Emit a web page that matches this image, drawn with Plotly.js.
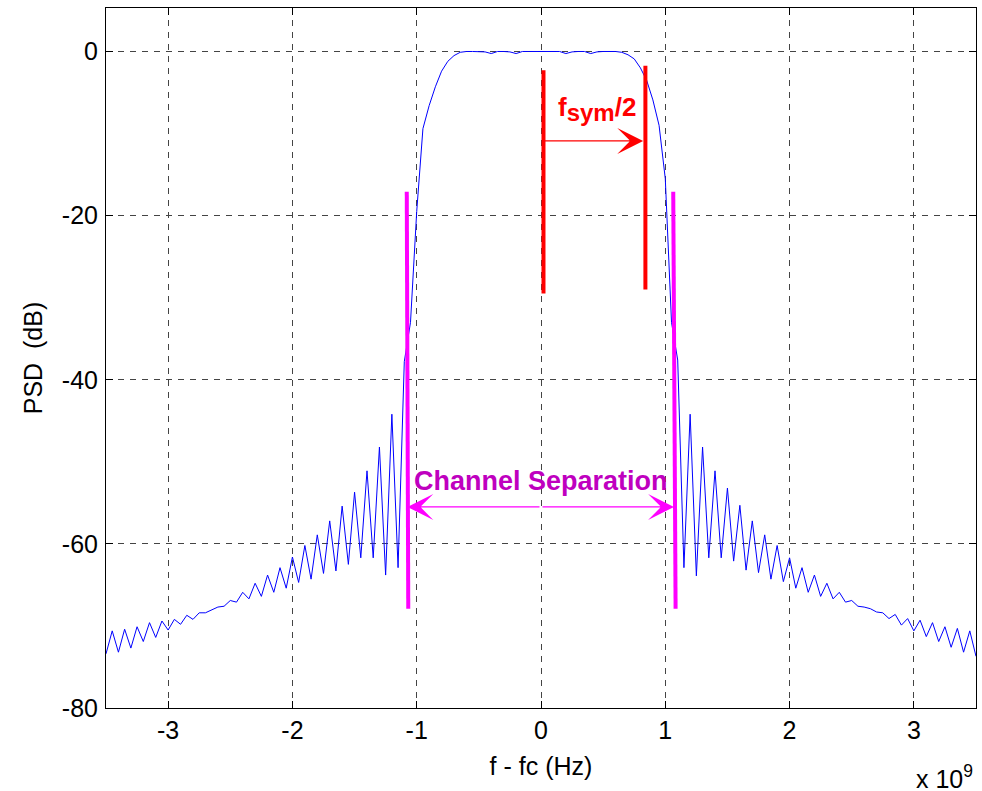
<!DOCTYPE html>
<html>
<head>
<meta charset="utf-8">
<script src="https://cdn.plot.ly/plotly-3.0.1.min.js"></script>
<style>
  html, body { margin: 0; padding: 0; background: #ffffff; }
  #chart { width: 982px; height: 791px; }
</style>
</head>
<body>
<div id="chart"></div>
<script>
// Frequency offset f - fc, in units of 1e9 Hz
const freqGHz = [
  -3.5,-3.45,-3.4,-3.35,-3.3,-3.25,-3.2,-3.15,-3.1,-3.05,
  -3,-2.95,-2.9,-2.85,-2.8,-2.75,-2.7,-2.65,-2.6,-2.55,
  -2.5,-2.45,-2.4,-2.35,-2.3,-2.25,-2.2,-2.15,-2.1,-2.05,
  -2,-1.95,-1.9,-1.85,-1.8,-1.75,-1.7,-1.65,-1.6,-1.55,
  -1.5,-1.45,-1.4,-1.35,-1.3,-1.25,-1.2,-1.15,-1.1,-1.05,
  -1,-0.95,-0.9,-0.85,-0.8,-0.75,-0.7,-0.65,-0.6,-0.55,
  -0.5,-0.45,-0.4,-0.35,-0.3,-0.25,-0.2,-0.15,-0.1,-0.05,
  0,0.05,0.1,0.15,0.2,0.25,0.3,0.35,0.4,0.45,
  0.5,0.55,0.6,0.65,0.7,0.75,0.8,0.85,0.9,0.95,
  1,1.05,1.1,1.15,1.2,1.25,1.3,1.35,1.4,1.45,
  1.5,1.55,1.6,1.65,1.7,1.75,1.8,1.85,1.9,1.95,
  2,2.05,2.1,2.15,2.2,2.25,2.3,2.35,2.4,2.45,
  2.5,2.55,2.6,2.65,2.7,2.75,2.8,2.85,2.9,2.95,
  3,3.05,3.1,3.15,3.2,3.25,3.3,3.35,3.4,3.45,
  3.5
];

// Power spectral density, dB
const psdDb = [
  -73.4,-70.6,-73.2,-70.4,-72.7,-70.1,-71.9,-69.6,-71.4,-69.4,
  -70.5,-69.2,-69.8,-68.7,-69.2,-68.4,-68.4,-68.0,-67.7,-67.6,
  -66.9,-67.1,-65.9,-66.7,-64.8,-66.4,-63.8,-65.9,-62.9,-65.4,
  -61.6,-64.7,-60.2,-64.3,-58.9,-63.6,-57.2,-63.3,-55.4,-62.5,
  -53.7,-61.7,-51.1,-61.7,-48.2,-63.8,-44.2,-62.9,-37.8,-33.0,
  -19.5,-9.4,-6.6,-4.3,-2.4,-1.2,-0.5,-0.1,0.0,0.0,
  0.0,-0.05,-0.25,0.0,0.0,-0.05,-0.25,0.0,0.0,0.0,
  0.0,0.0,0.0,0.0,-0.25,-0.05,0.0,0.0,-0.25,-0.05,
  0.0,0.0,0.0,-0.1,-0.4,-0.9,-2.0,-3.5,-5.9,-9.0,
  -15.5,-33.0,-37.6,-62.9,-44.2,-63.9,-48.2,-61.7,-51.1,-61.7,
  -53.2,-62.1,-55.3,-63.2,-57.2,-63.5,-58.9,-64.3,-60.2,-64.6,
  -61.7,-65.4,-62.9,-65.9,-63.8,-66.4,-64.8,-66.7,-65.9,-67.1,
  -66.9,-67.6,-67.7,-67.9,-68.3,-68.4,-69.1,-68.6,-69.9,-69.1,
  -70.6,-69.3,-71.3,-69.6,-71.9,-70.1,-72.6,-70.3,-73.2,-70.6,
  -73.7
];

const xTickVals = [-3, -2, -1, 0, 1, 2, 3];
const yTickVals = [0, -20, -40, -60, -80];

// f_sym/2 marker lines (red)
const symLeftX = [0.02, 0.02];
const symLeftY = [-2.3, -29.5];
const symRightX = [0.84, 0.84];
const symRightY = [-1.75, -29.0];
const symArrowFromX = 0.02, symArrowToX = 0.822, symArrowY = -10.9;

// Channel separation marker lines (magenta)
const chLeftX = [-1.08, -1.068];
const chLeftY = [-17.1, -67.9];
const chRightX = [1.064, 1.083];
const chRightY = [-17.1, -67.9];
const chArrowLeftX = -1.075, chArrowRightX = 1.07, chArrowY = -55.5;

const FONT = 'Liberation Sans, Arial, Helvetica, sans-serif';

const traces = [
  { x: freqGHz, y: psdDb, type: 'scatter', mode: 'lines',
    line: { color: '#0000ff', width: 1 }, hoverinfo: 'skip' },
  { x: symLeftX, y: symLeftY, type: 'scatter', mode: 'lines',
    line: { color: '#ff0000', width: 4 }, hoverinfo: 'skip' },
  { x: symRightX, y: symRightY, type: 'scatter', mode: 'lines',
    line: { color: '#ff0000', width: 4 }, hoverinfo: 'skip' },
  { x: chLeftX, y: chLeftY, type: 'scatter', mode: 'lines',
    line: { color: '#ff00ff', width: 4 }, hoverinfo: 'skip' },
  { x: chRightX, y: chRightY, type: 'scatter', mode: 'lines',
    line: { color: '#ff00ff', width: 4 }, hoverinfo: 'skip' }
];

const layout = {
  width: 982, height: 791,
  margin: { l: 106, r: 6, t: 8, b: 83 },
  paper_bgcolor: '#ffffff', plot_bgcolor: '#ffffff',
  showlegend: false,
  font: { family: FONT, size: 25, color: '#000000' },
  xaxis: {
    range: [-3.5, 3.5], tickvals: xTickVals, ticktext: xTickVals.map(String),
    ticks: 'inside', ticklen: 7, tickcolor: '#000', showline: true, linecolor: '#000', linewidth: 1,
    mirror: 'ticks', showgrid: true, gridcolor: '#444', griddash: '6px,6px', gridwidth: 1,
    zeroline: false, tickfont: { family: FONT, size: 25 },
    title: { text: 'f - fc (Hz)', font: { family: FONT, size: 25 }, standoff: 14 },
    automargin: false
  },
  yaxis: {
    range: [-80, 5.3], tickvals: yTickVals, ticktext: yTickVals.map(String),
    ticks: 'inside', ticklen: 7, tickcolor: '#000', showline: true, linecolor: '#000', linewidth: 1,
    mirror: 'ticks', showgrid: true, gridcolor: '#444', griddash: '6px,6px', gridwidth: 1,
    zeroline: false, tickfont: { family: FONT, size: 25 }, ticklabelstandoff: 2,
    title: { text: 'PSD&nbsp;&nbsp;(dB)', font: { family: FONT, size: 25 }, standoff: 12 },
    automargin: false
  },
  annotations: [
    { x: symArrowToX, y: symArrowY, ax: symArrowFromX, ay: symArrowY,
      xref: 'x', yref: 'y', axref: 'x', ayref: 'y', text: '',
      showarrow: true, arrowhead: 3, arrowsize: 3.6, arrowwidth: 1.2, arrowcolor: '#ff0000', standoff: 0, startstandoff: 0 },
    { x: chArrowLeftX, y: chArrowY, ax: 0, ay: chArrowY,
      xref: 'x', yref: 'y', axref: 'x', ayref: 'y', text: '',
      showarrow: true, arrowhead: 3, arrowsize: 3.6, arrowwidth: 1.2, arrowcolor: '#ff00ff', standoff: 0, startstandoff: 0 },
    { x: chArrowRightX, y: chArrowY, ax: 0, ay: chArrowY,
      xref: 'x', yref: 'y', axref: 'x', ayref: 'y', text: '',
      showarrow: true, arrowhead: 3, arrowsize: 3.6, arrowwidth: 1.2, arrowcolor: '#ff00ff', standoff: 0, startstandoff: 0 },
    { x: 0.117, y: -7.0, xref: 'x', yref: 'y', xanchor: 'left', yanchor: 'middle',
      text: "<b>f<sub><span style='font-size:24px'>sym</span></sub>/2</b>", showarrow: false,
      font: { family: FONT, size: 26, color: '#ff0000' } },
    { x: 0.0, y: -52.3, xref: 'x', yref: 'y', xanchor: 'center', yanchor: 'middle',
      text: '<b>Channel Separation</b>', showarrow: false,
      font: { family: FONT, size: 27, color: '#bf00bf' } },
    { x: 0.999, y: -0.099, xref: 'paper', yref: 'paper', xanchor: 'right', yanchor: 'middle',
      text: 'x 10<sup>9</sup>', showarrow: false,
      font: { family: FONT, size: 25, color: '#000' } }
  ]
};

Plotly.newPlot('chart', traces, layout, { staticPlot: true, displayModeBar: false });
</script>
</body>
</html>
